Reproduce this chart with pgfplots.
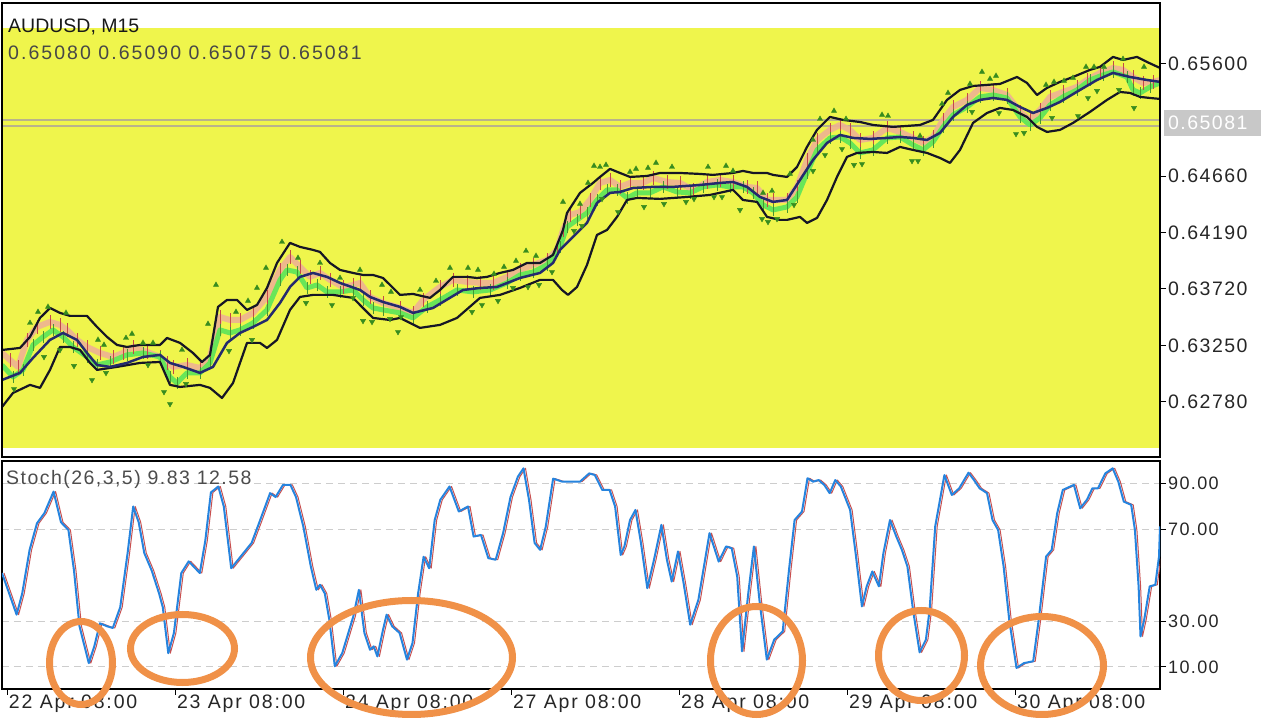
\documentclass[border=0pt]{standalone}
\usepackage{pgfplots}
\pgfplotsset{compat=1.18}
\usepackage{pgfplotstable}
\usepackage{fontspec}
\setmainfont{Liberation Sans}
\newfontfamily\numfont[LetterSpace=7.5]{Liberation Sans}
\newfontfamily\widefont[LetterSpace=10.5]{Liberation Sans}
\newfontfamily\datefont[LetterSpace=9.5]{Liberation Sans}
\definecolor{ybg}{RGB}{239,245,76}
\definecolor{bandc}{RGB}{22,22,38}
\definecolor{midc}{RGB}{36,42,110}
\definecolor{salc}{RGB}{238,178,148}
\definecolor{maG}{RGB}{104,230,88}
\definecolor{frac}{RGB}{56,140,30}
\definecolor{hair}{RGB}{196,72,72}
\definecolor{hairg}{RGB}{70,150,50}
\definecolor{stblue}{RGB}{38,132,222}
\definecolor{stred}{RGB}{200,80,80}
\definecolor{gridc}{RGB}{205,205,205}
\definecolor{ell}{RGB}{240,145,72}
\definecolor{pline}{RGB}{185,178,140}
\definecolor{pbox}{RGB}{200,200,200}

\pgfplotstableread{
x y
2 .63211
20 .63228
30 .63320
40 .63478
50 .63561
60 .63520
70 .63495
87 .63495
97 .63403
107 .63320
117 .63253
127 .63236
140 .63253
160 .63253
167 .63311
180 .63270
193 .63186
202 .63111
210 .63170
218 .63570
227 .63628
237 .63628
247 .63545
257 .63586
267 .63728
277 .63936
290 .64103
300 .64070
313 .64045
320 .64028
330 .63936
340 .63878
353 .63853
363 .63836
373 .63836
383 .63811
397 .63695
400 .63670
413 .63678
430 .63645
440 .63711
453 .63820
467 .63820
477 .63811
487 .63820
500 .63853
513 .63878
527 .63936
540 .63936
553 .64003
563 .64211
567 .64353
580 .64520
593 .64603
600 .64653
610 .64720
620 .64686
630 .64653
647 .64661
660 .64686
680 .64686
700 .64678
713 .64670
733 .64686
743 .64703
753 .64686
767 .64686
773 .64670
787 .64653
797 .64736
807 .64903
817 .65045
830 .65153
843 .65128
860 .65111
873 .65086
893 .65070
907 .65078
920 .65086
933 .65128
947 .65295
960 .65378
973 .65411
987 .65420
1000 .65428
1017 .65486
1027 .65436
1037 .65336
1047 .65395
1060 .65445
1073 .65486
1090 .65545
1100 .65570
1113 .65653
1123 .65628
1137 .65653
1147 .65611
1160 .65561
}\tabUpper

\pgfplotstableread{
x y
2 .62961
20 .63020
33 .63145
50 .63295
63 .63353
77 .63295
87 .63186
97 .63086
110 .63070
127 .63103
143 .63153
160 .63170
170 .63103
183 .63070
200 .63020
213 .63070
227 .63270
240 .63353
253 .63403
267 .63461
280 .63603
290 .63736
300 .63820
313 .63853
327 .63820
340 .63770
360 .63711
370 .63653
383 .63611
400 .63570
413 .63520
433 .63561
463 .63711
480 .63728
497 .63736
520 .63811
540 .63853
553 .63936
560 .64045
573 .64153
587 .64270
597 .64436
610 .64520
620 .64528
633 .64561
653 .64570
673 .64570
700 .64586
720 .64603
733 .64611
747 .64570
760 .64486
773 .64445
787 .64461
800 .64628
813 .64795
827 .64936
840 .65003
853 .64978
870 .64970
887 .64978
900 .64986
913 .64978
927 .64961
940 .65020
953 .65153
967 .65253
980 .65295
993 .65311
1007 .65295
1020 .65236
1033 .65186
1047 .65228
1060 .65278
1080 .65378
1097 .65461
1113 .65520
1130 .65486
1147 .65461
1160 .65445
}\tabMiddle

\pgfplotstableread{
x y
2 .62736
13 .62853
30 .62920
40 .62895
50 .63045
60 .63236
70 .63236
80 .63211
90 .63103
97 .63045
117 .63070
140 .63103
160 .63111
170 .62920
180 .62903
200 .62920
210 .62895
222 .62811
233 .62936
247 .63270
260 .63270
267 .63228
277 .63295
290 .63545
300 .63653
313 .63670
333 .63670
353 .63645
363 .63561
373 .63478
390 .63461
400 .63478
420 .63395
440 .63420
457 .63478
480 .63645
500 .63670
520 .63728
540 .63795
553 .63795
562 .63711
568 .63670
577 .63736
587 .63920
597 .64170
607 .64211
617 .64320
627 .64461
637 .64478
660 .64470
687 .64486
710 .64503
733 .64545
743 .64461
757 .64445
767 .64320
780 .64295
787 .64295
800 .64320
807 .64270
817 .64311
827 .64461
837 .64653
847 .64820
857 .64853
873 .64861
887 .64853
900 .64903
913 .64878
927 .64853
940 .64811
950 .64770
960 .64878
973 .65103
987 .65186
1000 .65228
1013 .65211
1027 .65153
1037 .65070
1047 .65028
1060 .65045
1073 .65103
1090 .65195
1107 .65295
1120 .65361
1130 .65353
1140 .65320
1150 .65311
1160 .65303
}\tabLower

\pgfplotstableread{
x y
2 .63186
10 .63128
18 .63070
27 .63295
37 .63403
50 .63445
60 .63420
67 .63378
77 .63295
87 .63236
100 .63186
113 .63153
123 .63186
133 .63236
147 .63195
160 .63153
167 .63103
173 .63070
187 .63086
200 .63061
210 .63153
220 .63486
230 .63461
240 .63461
253 .63520
267 .63653
280 .63878
290 .63986
300 .63903
310 .63820
320 .63853
330 .63795
343 .63736
353 .63753
360 .63770
370 .63653
383 .63603
400 .63561
413 .63520
423 .63628
440 .63736
453 .63795
467 .63778
480 .63770
493 .63770
507 .63820
520 .63878
533 .63920
547 .63961
557 .64045
563 .64211
570 .64336
580 .64361
590 .64461
600 .64603
610 .64628
620 .64570
630 .64603
643 .64603
653 .64645
667 .64611
680 .64603
693 .64545
707 .64611
720 .64628
733 .64611
747 .64570
757 .64561
767 .64461
773 .64461
787 .64461
797 .64570
807 .64795
817 .64961
830 .65045
840 .65086
850 .65045
860 .64961
873 .64978
887 .65061
900 .65028
913 .64978
923 .64936
933 .64986
943 .65128
953 .65236
967 .65295
980 .65395
993 .65378
1007 .65336
1020 .65195
1030 .65128
1040 .65211
1050 .65320
1063 .65361
1077 .65403
1087 .65461
1100 .65520
1113 .65561
1123 .65545
1133 .65486
1143 .65436
1153 .65445
1160 .65461
}\tabSalmon

\pgfplotstableread{
x y
2 .63086
13 .62986
23 .63045
33 .63253
43 .63320
53 .63378
63 .63320
73 .63236
87 .63153
97 .63086
110 .63111
127 .63170
143 .63186
160 .63153
170 .62986
177 .62936
187 .63020
200 .63020
210 .63103
220 .63378
230 .63353
240 .63378
253 .63436
267 .63545
280 .63795
287 .63878
297 .63861
307 .63728
317 .63753
327 .63695
340 .63695
353 .63711
363 .63628
373 .63561
383 .63545
400 .63520
413 .63478
427 .63570
440 .63628
457 .63711
473 .63695
490 .63711
507 .63770
520 .63836
533 .63861
547 .63920
560 .64070
567 .64236
577 .64295
587 .64353
597 .64461
607 .64545
617 .64545
627 .64478
637 .64520
650 .64520
663 .64570
677 .64528
690 .64520
703 .64570
717 .64586
730 .64570
743 .64570
753 .64520
763 .64420
773 .64378
787 .64403
797 .64486
807 .64686
817 .64878
830 .64978
840 .64986
850 .64936
860 .64853
873 .64878
887 .64978
900 .64986
913 .64920
923 .64878
933 .64945
943 .65070
953 .65170
967 .65236
980 .65320
993 .65336
1007 .65311
1020 .65153
1030 .65086
1040 .65145
1050 .65253
1063 .65320
1077 .65378
1090 .65461
1103 .65503
1113 .65528
1127 .65486
1133 .65378
1140 .65353
1150 .65403
1160 .65436
}\tabGreen

\pgfplotstableread{
x y
30 .63436
38 .63528
48 .63570
66 .63520
98 .63295
104 .63253
126 .63311
132 .63345
143 .63270
153 .63270
182 .63211
208 .63428
216 .63753
236 .63528
248 .63620
257 .63728
266 .63895
282 .64111
298 .63978
320 .63936
340 .63811
360 .63878
382 .63753
391 .63695
420 .63711
436 .63786
450 .63895
468 .63895
478 .63878
494 .63845
504 .63903
516 .63953
526 .64036
536 .63995
563 .64445
580 .64428
588 .64603
594 .64745
600 .64736
606 .64753
630 .64695
636 .64720
648 .64728
656 .64770
672 .64736
708 .64736
726 .64745
733 .64703
763 .64520
772 .64536
790 .64678
813 .64961
820 .65136
834 .65203
846 .65136
882 .65170
888 .65161
920 .64995
942 .65261
948 .65353
970 .65428
982 .65528
990 .65470
996 .65495
1046 .65420
1054 .65445
1064 .65453
1073 .65478
1086 .65570
1094 .65570
1104 .65570
1123 .65636
1144 .65570
}\tabFup

\pgfplotstableread{
x y
14 .62886
44 .63153
60 .63211
74 .63078
92 .62961
106 .63020
148 .63086
164 .62861
170 .62761
186 .62928
229 .63203
252 .63295
306 .63603
332 .63586
353 .63645
363 .63453
372 .63445
390 .63470
398 .63361
401 .63486
472 .63528
482 .63586
498 .63620
513 .63728
528 .63736
539 .63753
552 .63861
574 .64203
582 .64245
602 .64470
618 .64361
644 .64403
664 .64428
686 .64445
694 .64470
714 .64486
722 .64486
740 .64378
762 .64303
768 .64278
777 .64303
794 .64420
813 .64703
825 .64836
842 .64886
854 .64753
862 .64761
912 .64786
918 .64786
972 .65195
999 .65186
1016 .65011
1024 .65020
1052 .65145
1078 .65161
1088 .65311
1097 .65370
1119 .65378
1134 .65228
}\tabFdn

\pgfplotstableread{
x y
2 50.9
9.2 42
16.6 32.8
22.2 42
29.6 61
37 72.6
44.4 77
53.6 86.4
61 73
68.4 69.7
74 52
79.5 27.7
88.8 11.7
94.3 19
99.9 29
107.3 27.7
112.8 27
120.2 36
127.6 59.6
133.2 79.9
138.7 73
144.3 59.6
151.7 52
159.1 42
162.8 36
168.3 16
173.9 24.8
181.3 50.9
188.7 56
199.8 50.9
205.3 65
210.9 86
218.3 88.6
223.8 79.9
231.2 53
240.5 58
251.6 64
259 72.6
270.1 85.7
275.6 84
283 89.3
290.4 89.3
296 84
303.4 71
310.8 53.8
316.3 43.6
320 45.8
324.8 42
329.3 30.6
334.8 10.3
342.2 16
353.3 32
358.9 43.6
364.4 24.8
370 17.5
373.7 19
377.4 14.6
382.9 26
386.6 32.8
392.2 27.7
399.6 24.8
407 13.2
412.5 20.4
418.1 42
423.6 58
429.2 53
434.7 74
440.3 82.8
449.5 88.6
458.8 77.7
468 79.9
473.6 66.8
481 67.5
488.3 57.4
495.7 56.7
503.1 68.3
510.5 84
517.9 92.9
523.5 96.5
529 82.8
534.6 64
540.1 61
545.7 71
553.1 92
562.3 90.7
571.6 90.7
580 90.7
589.2 94.3
594.8 93.6
602.2 87.1
609.6 87.1
615.1 79.9
620.7 58.8
624.4 62.5
630 74
635.5 78.4
641 63.9
647.3 44.3
654 56.7
661.4 71.9
666.9 56.7
671.7 47.2
678 60.3
683.6 46.5
690.2 28.4
698.4 39.3
709.5 68.3
718.7 55.9
726.1 62.5
731.7 61.7
737.2 49.4
742 16.8
748.3 42.2
753.9 62.5
759.4 39.3
766.8 13.2
774.2 21.9
782.7 25.5
789 52.3
794.6 74
802 77.7
807.5 92.2
813.1 90.7
818.6 91.4
824.2 89.3
829.7 85.7
835.3 91.4
840.8 88.6
850.1 78.4
855.6 59.6
861.9 36.4
866.7 45.1
872.3 51.6
878.9 45.1
883.4 59.6
890 74
896.3 66.8
901.9 61
907.4 53.8
913 34.9
919.6 16.4
925.9 21.9
929.6 34.9
935.2 71.2
944.4 93.6
951.8 84.9
959.2 87.8
968.5 94.6
974 91.4
979.6 87.8
987 85.7
992.5 74
998.1 69.7
1003.6 53.8
1009.2 30.6
1016.5 9.6
1024 11.7
1033.2 12.5
1038.7 30.6
1046.1 58.1
1051.7 61
1057.2 77
1062.8 87.1
1073.9 89.3
1080.2 79.1
1086.9 82.8
1092.4 87.8
1098 87.8
1105.3 94.3
1112.7 96.5
1118.3 90.7
1123.8 82
1131.2 80.6
1134.9 69.7
1138.6 45.1
1140.5 23.3
1144.2 30.6
1149.7 45.1
1155.3 45.8
1159 58.1
1160 71.2
}\tabStoch

\begin{document}
\begin{tikzpicture}[x=1pt,y=1pt]
\path[use as bounding box] (0,0) rectangle (1280,720);

\begin{axis}[
  at={(2pt,263pt)}, anchor=south west, scale only axis,
  width=1158pt, height=454pt,
  xmin=2, xmax=1160, ymin=0.623192, ymax=0.661025,
  axis on top, axis line style={black, line width=1.4pt},
  xtick=\empty,
  ytick={0.6278,0.6325,0.6372,0.6419,0.6466,0.6560},
  yticklabels={0.62780,0.63250,0.63720,0.64190,0.64660,0.65600},
  ytick pos=right, yticklabel pos=right, tick align=outside,
  major tick length=6pt, tick style={black, line width=1pt},
  yticklabel style={font=\numfont\fontsize{19.5}{20}\selectfont, text=black!85, anchor=west, inner sep=0pt, xshift=2pt},
  clip=true,
]
\fill[ybg] (rel axis cs:0,0.0198) rectangle (rel axis cs:1,0.9449);
\draw[pline, line width=1.2pt] (axis cs:2,0.65128) -- (axis cs:1160,0.65128);
\draw[pline, line width=1.2pt] (axis cs:2,0.65078) -- (axis cs:1160,0.65078);
\addplot[salc, line width=6pt, opacity=0.9, line join=round] table {\tabSalmon};
\addplot[maG, line width=5pt, line join=round] table {\tabGreen};
\addplot[draw=none, error bars/.cd, y dir=both, y fixed=0.0006, error mark=none,
  error bar style={draw=hair, line width=0.8pt}] table {\tabSalmon};
\addplot[draw=none, error bars/.cd, y dir=both, y fixed=0.0005, error mark=none,
  error bar style={draw=hairg, line width=0.7pt}] table {\tabGreen};
\addplot[bandc, line width=2.2pt, line join=round] table {\tabUpper};
\addplot[bandc, line width=2.2pt, line join=round] table {\tabLower};
\addplot[midc, line width=2.5pt, line join=round] table {\tabMiddle};
\addplot[only marks, mark=triangle*, mark size=3pt, frac, mark options={draw=frac, fill=frac}] table {\tabFup};
\addplot[only marks, mark=triangle*, mark size=3pt, frac, mark options={draw=frac, fill=frac, rotate=180}] table {\tabFdn};
\end{axis}

\begin{axis}[
  at={(2pt,31pt)}, anchor=south west, scale only axis,
  width=1158pt, height=228pt,
  xmin=2, xmax=1160, ymin=0.42, ymax=99.7,
  axis line style={black, line width=1.4pt},
  xtick={7.3,175.3,343.3,511.3,679.3,847.3,1015.3},
  xticklabels={22 Apr 08:00,23 Apr 08:00,24 Apr 08:00,27 Apr 08:00,28 Apr 08:00,29 Apr 08:00,30 Apr 08:00},
  xtick pos=bottom, ytick pos=right, yticklabel pos=right,
  ytick={10,30,70,90}, yticklabels={10.00,30.00,70.00,90.00},
  ymajorgrids, grid style={gridc, dash pattern=on 7pt off 5pt, line width=1pt},
  tick align=outside, major tick length=6pt, tick style={black, line width=1pt},
  yticklabel style={font=\numfont\fontsize{18}{19}\selectfont, text=black!85, anchor=west, inner sep=0pt, xshift=2pt},
  xticklabel style={font=\datefont\fontsize{19.5}{20}\selectfont, text=black!85, anchor=north west, inner sep=0pt, xshift=1.5pt},
]
\addplot[stred, line width=1pt, xshift=2pt, line join=round] table {\tabStoch};
\addplot[stblue, line width=2pt, line join=round] table {\tabStoch};
\end{axis}

\node[anchor=base west, inner sep=0pt, font=\fontsize{19.5}{20}\selectfont, text=black!90] at (8,687) {AUDUSD, M15};
\node[anchor=base west, inner sep=0pt, font=\widefont\fontsize{19.5}{20}\selectfont, text=black!72] at (8,660) {0.65080 0.65090 0.65075 0.65081};
\node[anchor=base west, inner sep=0pt, font=\numfont\fontsize{19.5}{20}\selectfont, text=black!70] at (6,235) {Stoch(26,3,5) 9.83 12.58};

\fill[pbox] (1164,584) rectangle (1261,610);
\node[anchor=west, inner sep=0pt, font=\numfont\fontsize{19.5}{20}\selectfont, text=white] at (1168,597) {0.65081};

\draw[ell, line width=7pt] (81,57) ellipse [x radius=31.5, y radius=41.5];
\draw[ell, line width=7pt] (182.5,71.5) ellipse [x radius=52, y radius=34];
\draw[ell, line width=7pt] (411.5,62.5) ellipse [x radius=101, y radius=57];
\draw[ell, line width=7pt] (756.5,59.5) ellipse [x radius=46, y radius=54];
\draw[ell, line width=7pt] (921.5,64.5) ellipse [x radius=43, y radius=45];
\draw[ell, line width=7pt] (1042,54.5) ellipse [x radius=61.5, y radius=49];
\end{tikzpicture}
\end{document}
